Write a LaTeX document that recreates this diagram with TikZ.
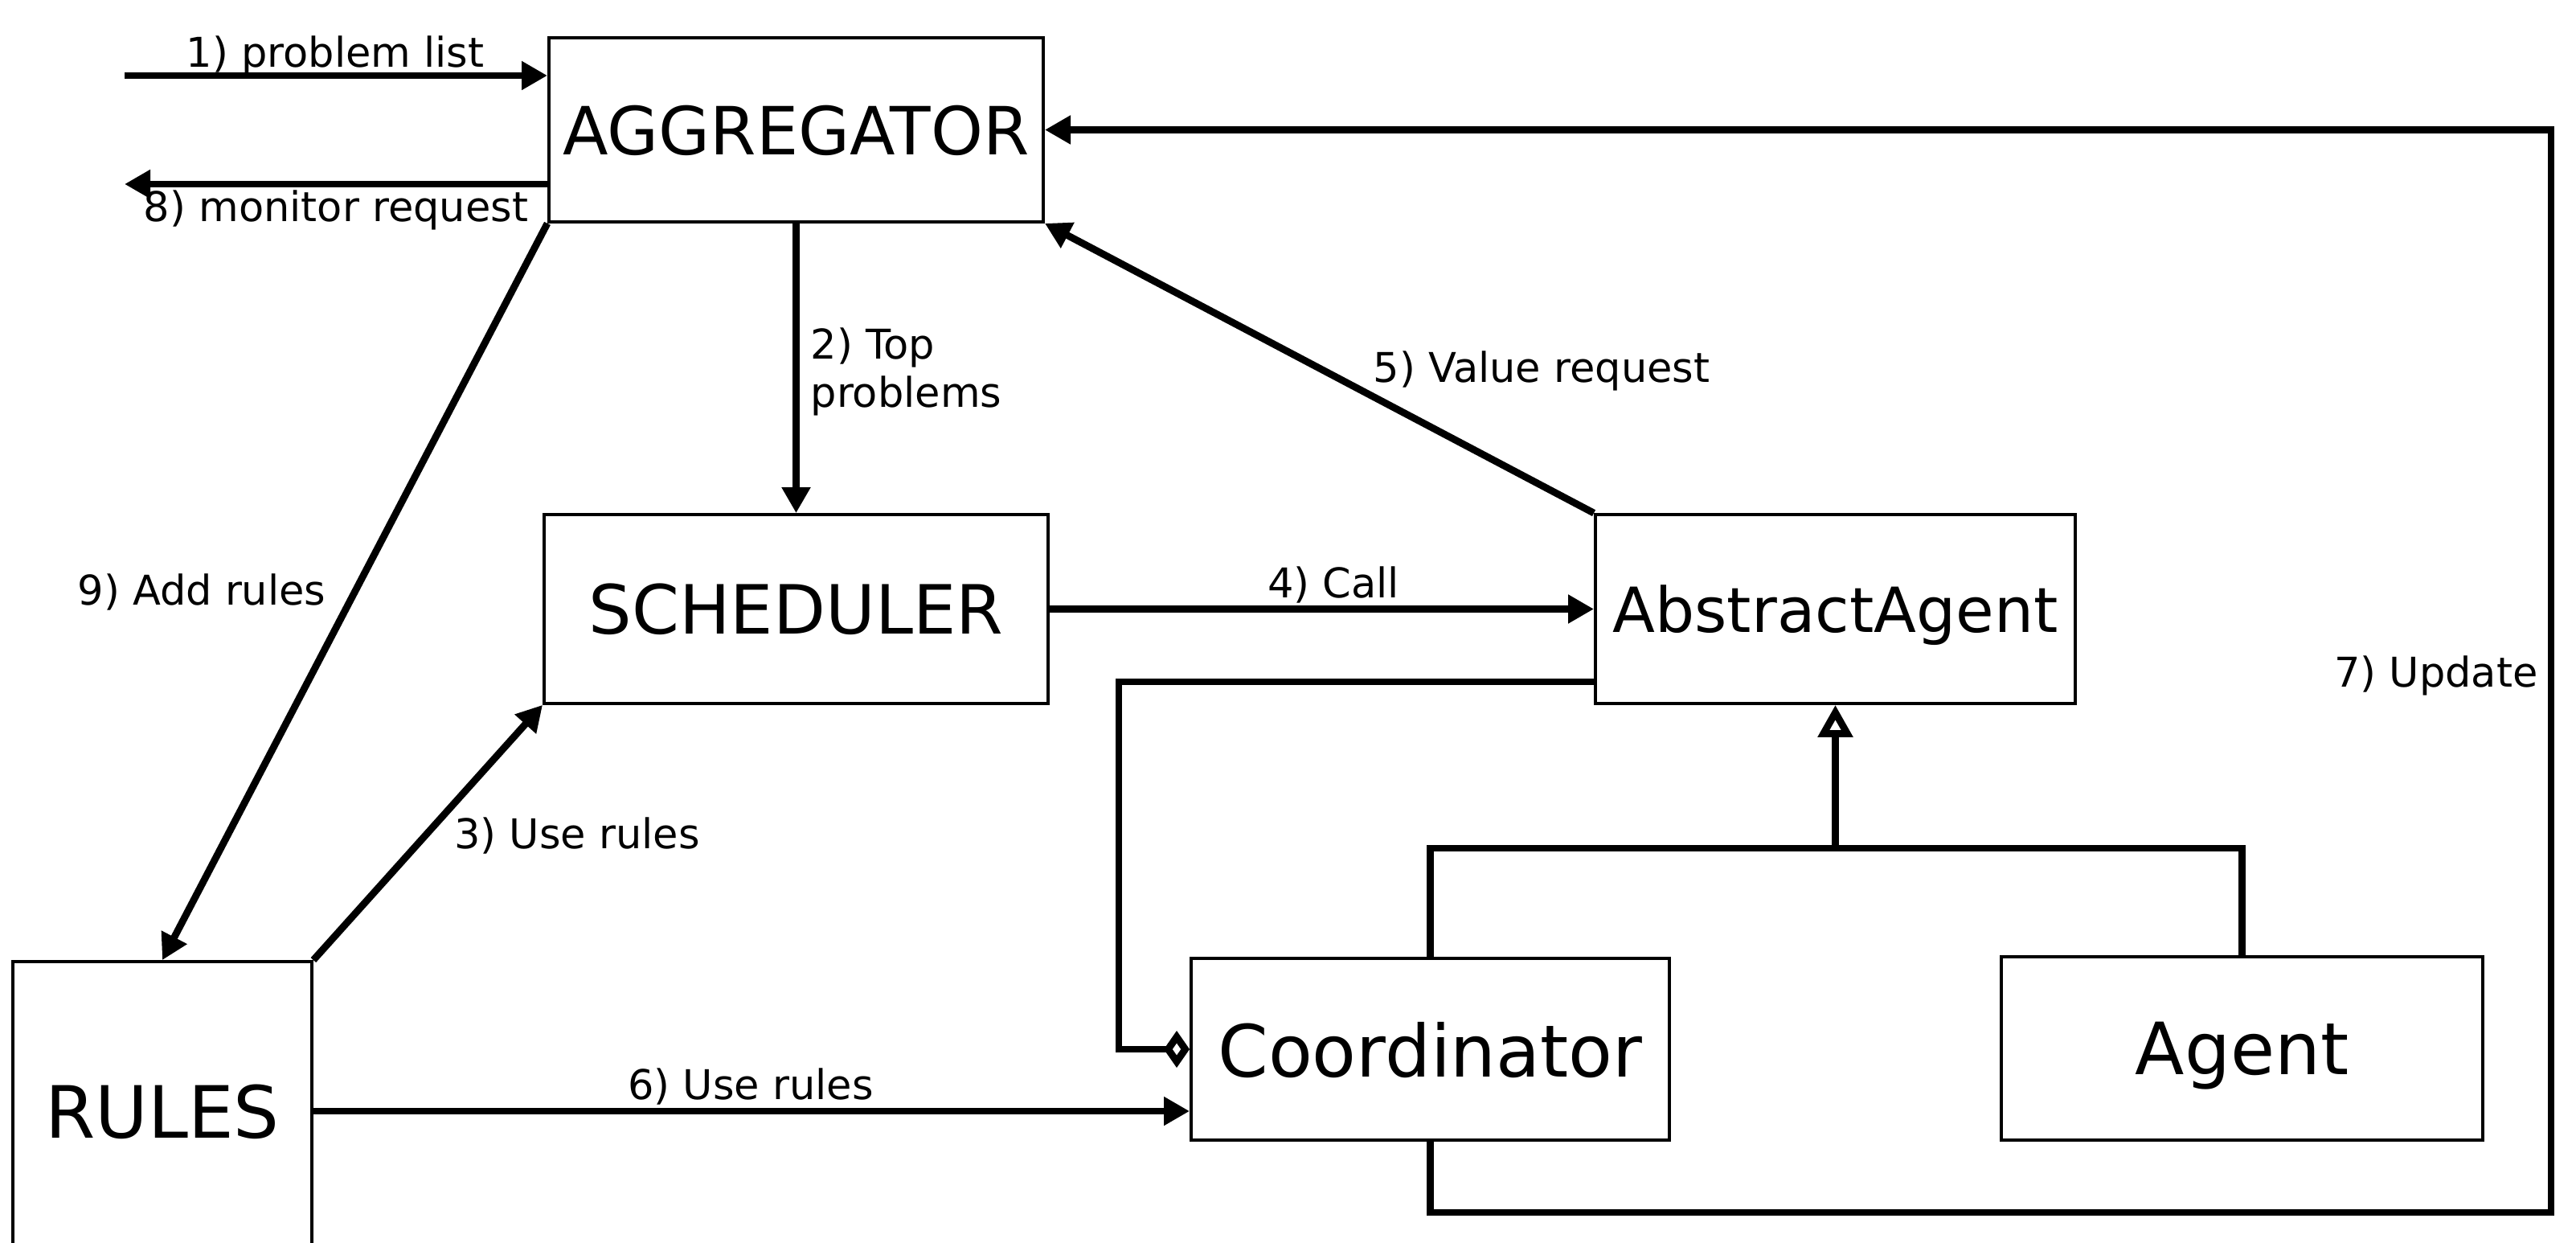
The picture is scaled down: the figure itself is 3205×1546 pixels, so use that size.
\documentclass[tikz,border=0pt]{standalone}
\usepackage{fontspec}
\setmainfont{DejaVu Sans}
\usetikzlibrary{arrows.meta}
\newcommand{\fsz}[1]{\fontsize{#1pt}{#1pt}\selectfont}
\tikzset{
  box/.style={draw, line width=0.036cm, inner sep=0pt, fill=white, text depth=0pt},
  link/.style={line width=0.088cm},
  arr/.style={link, -{Triangle[length=0.32cm, width=0.34cm]}},
  lbl/.style={inner sep=0pt, font=\fontsize{14.5pt}{17.3pt}\selectfont, anchor=base},
}
\begin{document}
\begin{tikzpicture}[x=0.01cm, y=-0.01cm]
\useasboundingbox (0,0) rectangle (3205,1546);
\clip (0,0) rectangle (3205,1546);

% components
\node[box, font=\fsz{23.5}, minimum width=6.15cm, minimum height=2.29cm] (agg) at (990.5,161.5) {AGGREGATOR};
\node[box, font=\fsz{24}, minimum width=6.27cm, minimum height=2.35cm] (sched) at (990.5,757.5) {SCHEDULER};
\node[box, font=\fsz{22}, minimum width=5.97cm, minimum height=2.35cm] (abs) at (2283.5,757.5) {AbstractAgent};
\node[box, font=\fsz{25.5}, minimum width=5.95cm, minimum height=2.26cm] (coord) at (1779.5,1305) {Coordinator};
\node[box, font=\fsz{25.5}, minimum width=5.99cm, minimum height=2.28cm] (agent) at (2789.5,1304) {Agent};
\node[box, font=\fsz{25.5}, minimum width=3.72cm, minimum height=3.72cm] (rules) at (202,1382) {RULES};

% free ends and bends
\coordinate (inlist) at (155,94);
\coordinate (outmon) at (155,229);
\coordinate (updcorner) at (3174,1508);
\coordinate (aggbend) at (1392,848);
\coordinate (inh) at (abs.south |- 0,1055);

% message flow
\draw[arr] (inlist) -- (agg.west |- inlist);
\draw[arr] (agg.west |- outmon) -- (outmon);
\draw[arr] (agg.south) -- (sched.north);
\draw[arr] (sched.east) -- (abs.west);
\draw[arr] (abs.north west) -- (agg.south east);
\draw[arr] (agg.south west) -- (rules.north);
\draw[arr] (rules.north east) -- (sched.south west);
\draw[arr] (rules.east) -- (rules.east -| coord.west);
\draw[arr] (coord.south) |- (updcorner) |- (agg.east);

% class relations
\draw[link, -{Diamond[open, length=0.32cm, width=0.46cm]}] (abs.west |- aggbend) -- (aggbend) |- (coord.west);
\draw[link] (coord.north) |- (inh) -| (agent.north);
\draw[link, -{Triangle[open, length=0.4cm, width=0.42cm, fill=white]}] (inh) -- (abs.south);

% labels
\node[lbl] (l1) at (417,84) {1) problem list};
\node[lbl] (l8) at (418,276) {8) monitor request};
\node[lbl, anchor=base west, align=left] (l2) at (1008,507) {2) Top\\problems};
\node[lbl] (l5) at (1918,476) {5) Value request};
\node[lbl] (l4) at (1659,744) {4) Call};
\node[lbl] (l9) at (251,752) {9) Add rules};
\node[lbl] (l3) at (718,1055) {3) Use rules};
\node[lbl] (l6) at (934,1367) {6) Use rules};
\node[lbl] (l7) at (3031,854) {7) Update};
\end{tikzpicture}
\end{document}
